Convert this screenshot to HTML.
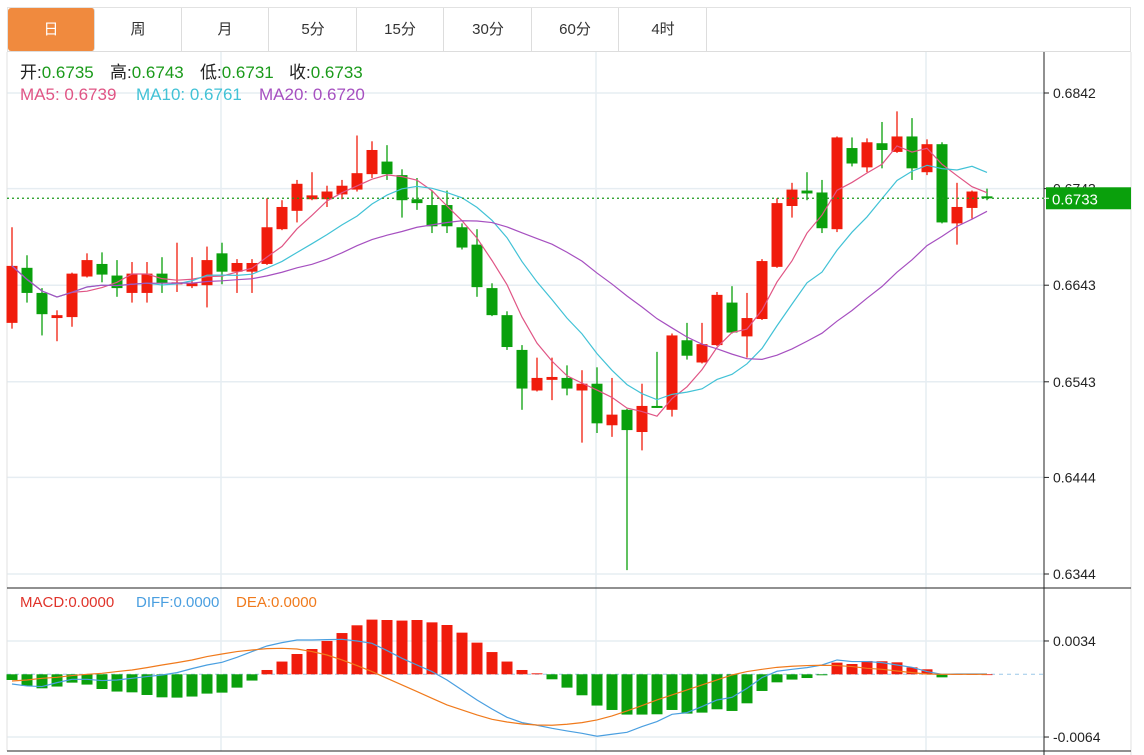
<!DOCTYPE html>
<html><head><meta charset="utf-8"><style>
html,body{margin:0;padding:0;background:#fff;width:1144px;height:755px;overflow:hidden;font-family:"Liberation Sans","Noto Sans CJK SC",sans-serif}
.tab{position:absolute;top:8px;height:43px;width:87px;line-height:43px;text-align:center;font-size:15px;color:#333;border-right:1px solid #ddd;box-sizing:border-box}
</style></head><body>
<div style="position:absolute;left:7px;top:7px;width:1124px;height:45px;border:1px solid #e2e2e2;border-bottom:1px solid #ddd;box-sizing:border-box"></div>
<div class="tab" style="left:8px;background:#f08a3e;color:#fff;border-radius:3px">日</div>
<div class="tab" style="left:95px">周</div>
<div class="tab" style="left:182px">月</div>
<div class="tab" style="left:270px">5分</div>
<div class="tab" style="left:357px">15分</div>
<div class="tab" style="left:445px">30分</div>
<div class="tab" style="left:532px">60分</div>
<div class="tab" style="left:620px">4时</div>
<svg id="chart" width="1144" height="755" style="position:absolute;left:0;top:0" xmlns="http://www.w3.org/2000/svg"></svg>
<script>
// OHLC data
const opens  = [.6604,.6661,.6635,.6609,.6610,.6652,.6665,.6653,.6635,.6635,.6655,.6644,.6642,.6643,.6676,.6657,.6657,.6665,.6701,.6720,.6732,.6732,.6737,.6742,.6758,.6771,.6757,.6732,.6726,.6726,.6703,.6685,.6640,.6612,.6576,.6534,.6545,.6547,.6534,.6541,.6498,.6514,.6491,.6518,.6514,.6586,.6563,.6581,.6625,.6590,.6608,.6662,.6725,.6741,.6739,.6701,.6785,.6765,.6790,.6781,.6797,.6760,.6789,.6707,.6723,.6735];
const highs  = [.6703,.6674,.6640,.6617,.6656,.6676,.6677,.6669,.6667,.6667,.6672,.6687,.6672,.6683,.6687,.6670,.6670,.6733,.6731,.6752,.6760,.6746,.6752,.6798,.6792,.6788,.6763,.6754,.6741,.6741,.6707,.6701,.6645,.6616,.6581,.6568,.6568,.6560,.6555,.6558,.6547,.6515,.6541,.6574,.6593,.6604,.6604,.6636,.6642,.6635,.6670,.6733,.6749,.6760,.6752,.6797,.6796,.6795,.6812,.6823,.6816,.6794,.6791,.6749,.6741,.6743];
const lows   = [.6598,.6625,.6591,.6585,.6600,.6651,.6646,.6631,.6625,.6625,.6635,.6636,.6640,.6620,.6644,.6635,.6635,.6664,.6700,.6708,.6731,.6724,.6732,.6740,.6754,.6752,.6713,.6721,.6697,.6697,.6680,.6631,.6611,.6576,.6514,.6533,.6524,.6529,.6480,.6490,.6486,.6348,.6472,.6516,.6507,.6566,.6562,.6580,.6593,.6568,.6607,.6661,.6713,.6731,.6697,.6698,.6766,.6760,.6764,.6780,.6752,.6757,.6707,.6685,.6712,.6731];
const closes = [.6663,.6635,.6613,.6612,.6655,.6669,.6654,.6640,.6655,.6655,.6645,.6646,.6645,.6669,.6657,.6666,.6666,.6703,.6724,.6748,.6736,.6740,.6746,.6759,.6783,.6758,.6731,.6728,.6704,.6704,.6682,.6641,.6612,.6579,.6536,.6547,.6548,.6536,.6541,.6500,.6509,.6493,.6518,.6517,.6591,.6570,.6582,.6633,.6594,.6609,.6668,.6728,.6742,.6738,.6702,.6796,.6769,.6791,.6783,.6797,.6764,.6789,.6708,.6724,.6740,.6733];
// MACD (units of 1e-4)
const macdHist = [-5.8,-11.9,-14.3,-12.5,-8.5,-10.5,-15,-17.6,-18.4,-21.1,-23.5,-23.8,-22.7,-19.7,-18.7,-13.6,-6.4,4.4,13,20.7,25.8,34,42.1,50,55.8,55.4,54.8,55.4,53,50.3,42.5,32.3,22.7,13,4.4,1,-5.1,-13.6,-21.4,-31.9,-36.4,-41.1,-41.1,-40.8,-36.4,-40.1,-39.1,-35.7,-37.4,-29.6,-17,-8.2,-5.4,-3.8,-1,11.9,10.5,13.6,13.3,12.2,7.1,5.1,-3.1,0.3,0.2,0];
const diffLine = [-9.9,-11.9,-12.5,-8.5,-5.1,-5.1,-6.4,-5.8,-4.1,-2.3,-0.7,1.7,5.8,9.5,12.2,17.3,23.2,28.9,32.3,35,35,35.4,35.7,34,31.6,24.2,16.3,9.5,2.8,-5.8,-16,-26.2,-35.4,-43.9,-49.3,-52,-55.1,-57.8,-60.2,-63.2,-61.2,-59.2,-53.3,-48.2,-40.8,-39.1,-32.9,-26.2,-23.5,-14.3,-3.4,3.1,5.1,6.8,9.5,14.6,13,13,11.9,9.5,7.1,2.8,0,0.3,0.3,0.3];
const deaLine  = [-6.8,-5.8,-4.1,-3.1,-1.3,0,1,2.8,4.4,6.8,9.5,11.9,14.6,18.1,20.7,23.2,24.8,26.2,26.5,25.8,23.2,19.7,14.6,8.9,2.8,-4.1,-10.9,-17.6,-24.5,-31.3,-36.4,-41.5,-45.9,-48.7,-50.7,-51.7,-52,-51,-49.3,-46.6,-42.5,-37.4,-31.9,-26.2,-21.1,-16,-10.9,-5.8,-0.7,2.8,5.1,7.1,8.2,8.9,9.2,8.9,7.9,6.1,5.1,3.4,1.7,0.3,0,0,0,0];
const priceTicks = [0.6842,0.6743,0.6643,0.6543,0.6444,0.6344];
const macdTicks = [34,-64];
const headerOHLC = ["0.6735","0.6743","0.6731","0.6733"];
const headerMA = ["0.6739","0.6761","0.6720"];

const svg = document.getElementById('chart');
const NS = 'http://www.w3.org/2000/svg';
function mk(tag, attrs, parent){const e=document.createElementNS(NS,tag);for(const k in attrs)e.setAttribute(k,attrs[k]);(parent||svg).appendChild(e);return e;}
const N = closes.length;
const X0 = 12, X1 = 987;
const xAt = i => X0 + (X1 - X0) * i / (N - 1);
const yP = p => 93 + (0.6842 - p) / 0.0498 * 481;
const yM = u => 674.3 - u * 0.98;
const RED = '#f01c0c', GREEN = '#0aa00c';

[221,596,926].forEach(x=>{
  const g=mk('line',{x1:x,x2:x,y1:52,y2:751,stroke:'#e6edf2','stroke-width':1.5});
  
  
});
priceTicks.forEach(t=>{
  const y=yP(t);
  const g=mk('line',{x1:7,x2:1044,y1:y,y2:y,stroke:'#e6edf2','stroke-width':1.5});
  
  
});
macdTicks.forEach(t=>{
  const y=yM(t);
  const g=mk('line',{x1:7,x2:1044,y1:y,y2:y,stroke:'#e6edf2','stroke-width':1.5});
  
  
});
mk('line',{x1:7,x2:7,y1:52,y2:751,stroke:'#e2e2e2'});
mk('line',{x1:1131,x2:1131,y1:52,y2:755,stroke:'#e2e2e2'});
mk('line',{x1:1044,x2:1044,y1:52,y2:755,stroke:'#222','stroke-width':1});
mk('line',{x1:7,x2:1131,y1:588,y2:588,stroke:'#222','stroke-width':1});
mk('line',{x1:7,x2:1131,y1:751,y2:751,stroke:'#222','stroke-width':1});

for(let i=0;i<N;i++){
  const x=xAt(i), up=closes[i]>=opens[i], c=up?RED:GREEN;
  const g=mk('g',{});
  
  
  mk('line',{x1:x,x2:x,y1:yP(highs[i]),y2:yP(lows[i]),stroke:c,'stroke-width':1.3},g);
  const top=yP(Math.max(opens[i],closes[i])), bot=yP(Math.min(opens[i],closes[i]));
  mk('rect',{x:x-5.5,y:top,width:11,height:Math.max(bot-top,2),fill:c},g);
}
function ma(n){return closes.map((_,i)=>{const s=Math.max(0,i-n+1);let t=0;for(let j=s;j<=i;j++)t+=closes[j];return t/(i-s+1);});}
[[5,'#e05585','ma5-line'],[10,'#42c2d6','ma10-line'],[20,'#a650c0','ma20-line']].forEach(([n,c,name])=>{
  const m=ma(n);
  const p=mk('polyline',{points:m.map((v,i)=>xAt(i)+','+yP(v)).join(' '),fill:'none',stroke:c,'stroke-width':1.2});
  
  
});
const cy=yP(closes[N-1]);
const cl=mk('line',{x1:7,x2:1044,y1:cy,y2:cy,stroke:'#1a9a1a','stroke-width':1.3,'stroke-dasharray':'2,3'});



priceTicks.forEach(t=>{
  const y=yP(t);
  mk('line',{x1:1044,x2:1049,y1:y,y2:y,stroke:'#222'});
  const tx=mk('text',{x:1053,y:y+5,'font-size':14,fill:'#222'});
  tx.textContent=t.toFixed(4);
  
  
});
const lb=mk('rect',{x:1046,y:cy-11,width:85,height:22,fill:'#0aa00c'});


mk('line',{x1:1044,x2:1049,y1:cy,y2:cy,stroke:'#fff'});
const lt=mk('text',{x:1052,y:cy+6,'font-size':15,fill:'#fff'});
lt.textContent=closes[N-1].toFixed(4);



const zl=mk('line',{x1:7,x2:1044,y1:yM(0),y2:yM(0),stroke:'#9cc8e8','stroke-dasharray':'4,4'});


for(let i=0;i<N;i++){
  const v=macdHist[i], y0=yM(0), y1=yM(v);
  const r=mk('rect',{x:xAt(i)-5.5,y:Math.min(y0,y1),width:11,height:Math.max(Math.abs(y1-y0),0.8),fill:v>=0?RED:GREEN});
  
  
}
[[diffLine,'#4a9fe0','diff-line'],[deaLine,'#f07a1c','dea-line']].forEach(([arr,c,name])=>{
  const p=mk('polyline',{points:arr.map((v,i)=>xAt(i)+','+yM(v)).join(' '),fill:'none',stroke:c,'stroke-width':1.2});
  
  
});
macdTicks.forEach(t=>{
  const y=yM(t);
  mk('line',{x1:1044,x2:1049,y1:y,y2:y,stroke:'#222'});
  const tx=mk('text',{x:1053,y:y+5,'font-size':14,fill:'#222'});
  tx.textContent=(t/10000).toFixed(4);
  
  
});

function legend(x,y,parts,name,size){
  const t=mk('text',{x:x,y:y,'font-size':size});
  
  
  parts.forEach(([s,c,px])=>{const sp=mk('tspan',{fill:c},t);if(px!==undefined)sp.setAttribute('x',px);sp.textContent=s;});
}
const G='#1a9a1a';
legend(20,78,[['开:','#222',20],[headerOHLC[0],G],['高:','#222',110],[headerOHLC[1],G],['低:','#222',200],[headerOHLC[2],G],['收:','#222',289],[headerOHLC[3],G]],'ohlc-legend',17);
legend(20,100,[['MA5: '+headerMA[0],'#e05585',20],['MA10: '+headerMA[1],'#42c2d6',136],['MA20: '+headerMA[2],'#a650c0',259]],'ma-legend',17);
legend(20,607,[['MACD:0.0000','#e0332a',20],['DIFF:0.0000','#4a9fe0',136],['DEA:0.0000','#f07a1c',236]],'macd-legend',15);
</script>
</body></html>
